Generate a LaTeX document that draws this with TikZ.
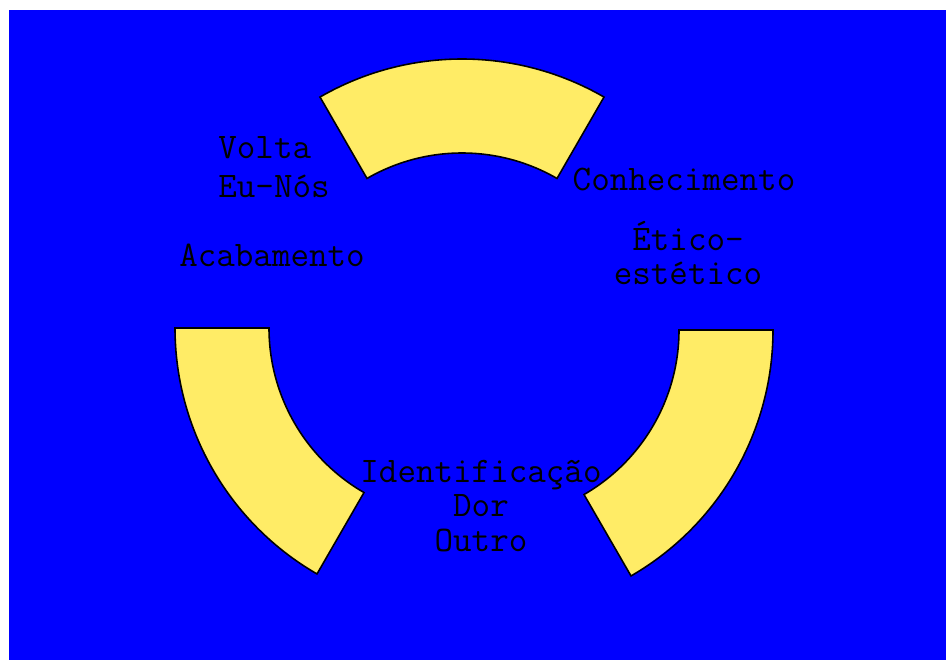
\documentclass[tikz,border=0pt]{standalone}
\usepackage{fontspec}
\usetikzlibrary{calc,positioning}
\definecolor{fundo}{RGB}{0,0,255}
\definecolor{setor}{RGB}{255,236,102}

\begin{document}
\begin{tikzpicture}[x=0.02cm,y=0.02cm,
  setor/.style={fill=setor,draw=black,line width=0.9pt,line join=miter},
  rotulo/.style={font=\ttfamily\fontsize{20.5}{19.5}\selectfont,inner sep=0pt,text=black}]
  \useasboundingbox (0,0) rectangle (946,660);
  % fundo azul
  \fill[fundo] (9,0) rectangle (946,650);
  % setor de cima
  \coordinate (ccima) at (462,317);
  \draw[setor] ($(ccima)+(60:284)$) arc[start angle=60,end angle=120,radius=284]
    -- ($(ccima)+(120:190)$) arc[start angle=120,end angle=60,radius=190] -- cycle;
  % setor da esquerda
  \coordinate (cesq) at (459,332);
  \draw[setor] ($(cesq)+(180:284)$) arc[start angle=180,end angle=240,radius=284]
    -- ($(cesq)+(240:190)$) arc[start angle=240,end angle=180,radius=190] -- cycle;
  % setor da direita
  \coordinate (cdir) at (489,330);
  \draw[setor] ($(cdir)+(300:284)$) arc[start angle=300,end angle=360,radius=284]
    -- ($(cdir)+(360:190)$) arc[start angle=360,end angle=300,radius=190] -- cycle;
  % rotulos
  \node[rotulo,align=left,font=\ttfamily\fontsize{20.5}{22}\selectfont] (volta) at (274,493) {Volta\\Eu-Nós};
  \node[rotulo] (acabamento) at (272,405) {Acabamento};
  \node[rotulo] (conhecimento) at (684,481) {Conhecimento};
  \node[rotulo,align=center] (etico) at (688,407) {Ético-\\estético};
  \node[rotulo,align=center] (identificacao) at (481,154) {Identificação\\Dor\\Outro};
\end{tikzpicture}
\end{document}
